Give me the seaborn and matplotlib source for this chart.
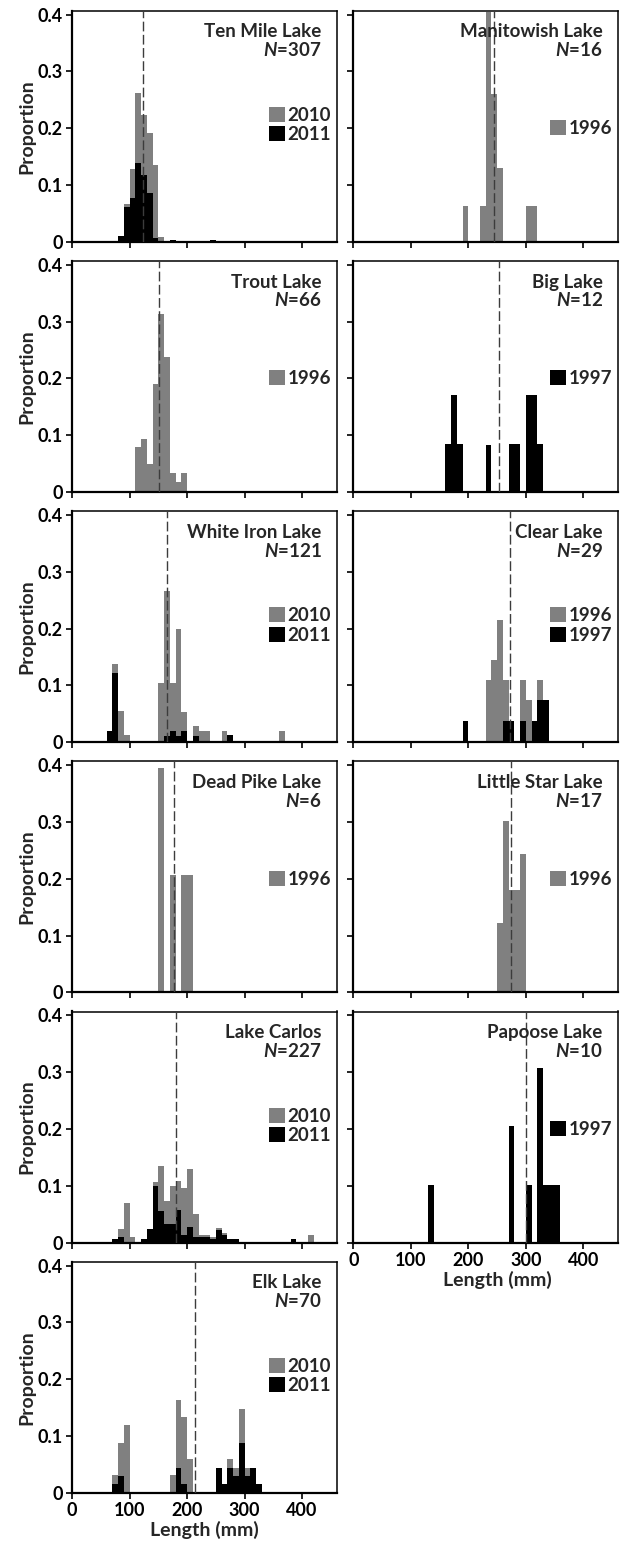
import numpy as np
import pandas as pd
import matplotlib
matplotlib.use("Agg")
import matplotlib.pyplot as plt
from matplotlib.patches import Patch
import seaborn as sns

# ---------------------------------------------------------------------------
# Length-frequency data: 10-mm bins (lower bin edge, mm) and proportion of the
# combined sample in each bin, split by sampling year.
# ---------------------------------------------------------------------------
TEN_MILE_BINS = [80, 90, 100, 110, 120, 130, 140, 150, 170, 240]
TEN_MILE_2010 = [0.000, 0.005, 0.051, 0.123, 0.105, 0.106, 0.129, 0.009, 0.000, 0.000]
TEN_MILE_2011 = [0.010, 0.061, 0.077, 0.139, 0.118, 0.086, 0.007, 0.000, 0.003, 0.003]

MANITOWISH_BINS = [190, 220, 230, 240, 250, 300, 310]
MANITOWISH_1996 = [0.0625, 0.0625, 0.405, 0.26, 0.13, 0.0625, 0.0625]

TROUT_BINS = [110, 120, 130, 140, 150, 160, 170, 180, 190]
TROUT_1996 = [0.079, 0.094, 0.049, 0.190, 0.314, 0.237, 0.033, 0.018, 0.033]

BIG_BINS = [160, 170, 180, 230, 270, 280, 300, 310, 320]
BIG_1997 = [0.084, 0.170, 0.084, 0.082, 0.084, 0.084, 0.170, 0.170, 0.084]

WHITE_IRON_BINS = [60, 70, 80, 90, 150, 160, 170, 180, 190, 210, 220, 230, 260, 270, 360]
WHITE_IRON_2010 = [0.000, 0.017, 0.055, 0.012, 0.105, 0.257, 0.086, 0.190, 0.034,
                   0.018, 0.020, 0.020, 0.020, 0.000, 0.020]
WHITE_IRON_2011 = [0.020, 0.121, 0.000, 0.000, 0.000, 0.010, 0.019, 0.010, 0.019,
                   0.010, 0.000, 0.000, 0.000, 0.012, 0.000]

CLEAR_BINS = [190, 230, 240, 250, 260, 270, 290, 300, 310, 320, 330]
CLEAR_1996 = [0.000, 0.109, 0.144, 0.215, 0.0725, 0.000, 0.0725, 0.0735, 0.000, 0.0355, 0.000]
CLEAR_1997 = [0.0365, 0.000, 0.000, 0.000, 0.0365, 0.0365, 0.0365, 0.000, 0.0365, 0.0735, 0.0735]

DEAD_PIKE_BINS = [150, 170, 190, 200]
DEAD_PIKE_1996 = [0.395, 0.206, 0.206, 0.206]

LITTLE_STAR_BINS = [250, 260, 270, 280, 290]
LITTLE_STAR_1996 = [0.122, 0.302, 0.181, 0.181, 0.243]

CARLOS_BINS = [70, 80, 90, 100, 120, 130, 140, 150, 160, 170, 180, 190, 200, 210,
               220, 230, 240, 250, 260, 270, 280, 380, 410]
CARLOS_2010 = [0.000, 0.013, 0.069, 0.0105, 0.000, 0.000, 0.006, 0.078, 0.0395, 0.067,
               0.051, 0.083, 0.1015, 0.041, 0.003, 0.003, 0.004, 0.004, 0.0045, 0.000,
               0.000, 0.000, 0.013]
CARLOS_2011 = [0.006, 0.010, 0.000, 0.000, 0.006, 0.023, 0.100, 0.056, 0.033, 0.033,
               0.058, 0.013, 0.0275, 0.010, 0.010, 0.010, 0.006, 0.022, 0.013, 0.006,
               0.006, 0.006, 0.000]

PAPOOSE_BINS = [130, 270, 300, 320, 330, 340, 350]
PAPOOSE_1997 = [0.101, 0.205, 0.101, 0.308, 0.101, 0.101, 0.101]

ELK_BINS = [70, 80, 90, 170, 180, 190, 200, 250, 260, 270, 280, 290, 300, 310, 320]
ELK_2010 = [0.016, 0.059, 0.119, 0.031, 0.119, 0.119, 0.059, 0.000, 0.000, 0.015,
            0.015, 0.059, 0.015, 0.000, 0.000]
ELK_2011 = [0.015, 0.029, 0.000, 0.000, 0.044, 0.015, 0.000, 0.044, 0.015, 0.044,
            0.029, 0.088, 0.029, 0.044, 0.015]

LAKE_NAMES = ["Ten Mile Lake", "Manitowish Lake", "Trout Lake", "Big Lake",
              "White Iron Lake", "Clear Lake", "Dead Pike Lake", "Little Star Lake",
              "Lake Carlos", "Papoose Lake", "Elk Lake"]
SAMPLE_SIZES = [307, 16, 66, 12, 121, 29, 6, 17, 227, 10, 70]
MEAN_LENGTHS = [123, 245, 152, 254, 166, 272.5, 177, 274.5, 181, 301, 214]

X_TICKS = [0, 100, 200, 300, 400]
Y_TICKS = [0, 0.1, 0.2, 0.3, 0.4]
Y_TICK_LABELS = ["0", "0.1", "0.2", "0.3", "0.4"]

PANELS = [
    (TEN_MILE_BINS, [("2010", TEN_MILE_2010), ("2011", TEN_MILE_2011)]),
    (MANITOWISH_BINS, [("1996", MANITOWISH_1996)]),
    (TROUT_BINS, [("1996", TROUT_1996)]),
    (BIG_BINS, [("1997", BIG_1997)]),
    (WHITE_IRON_BINS, [("2010", WHITE_IRON_2010), ("2011", WHITE_IRON_2011)]),
    (CLEAR_BINS, [("1996", CLEAR_1996), ("1997", CLEAR_1997)]),
    (DEAD_PIKE_BINS, [("1996", DEAD_PIKE_1996)]),
    (LITTLE_STAR_BINS, [("1996", LITTLE_STAR_1996)]),
    (CARLOS_BINS, [("2010", CARLOS_2010), ("2011", CARLOS_2011)]),
    (PAPOOSE_BINS, [("1997", PAPOOSE_1997)]),
    (ELK_BINS, [("2010", ELK_2010), ("2011", ELK_2011)]),
]

PALETTE = {"2010": "#808080", "2011": "#000000", "1996": "#808080", "1997": "#000000"}
EDGES = list(range(0, 470, 10))

# ---------------------------------------------------------------------------
# Styling
# ---------------------------------------------------------------------------
sns.set_theme(style="ticks")
plt.rcParams["font.family"] = ["Lato", "DejaVu Sans"]
plt.rcParams["font.weight"] = "bold"
plt.rcParams["axes.labelweight"] = "bold"
plt.rcParams["mathtext.fontset"] = "custom"
plt.rcParams["mathtext.it"] = "Lato:italic:bold"
plt.rcParams["mathtext.rm"] = "Lato:bold"
plt.rcParams["mathtext.bf"] = "Lato:bold"

W, H = 621, 1543
fig = plt.figure(figsize=(W / 100, H / 100), dpi=100)

COL_LEFT = [72.0, 353.3]
AX_W = 264.5
AX_H = 231.0
ROW_BOTTOM = [241.7 + 250.2 * i for i in range(6)]

FS_TICK = 13
FS_TITLE = 13.5
FS_LEG = 13.5
FS_LABEL = 14


def draw_panel(ax, idx, bins, series, show_xlabels, show_ylabels, xlabel_x=0.5):
    rows = []
    for year, vals in series:
        for b, v in zip(bins, vals):
            rows.append((b + 5, v, year))
    df = pd.DataFrame(rows, columns=["length", "prop", "year"])
    years = [y for y, _ in series]

    sns.histplot(data=df, x="length", weights="prop", hue="year", hue_order=years,
                 multiple="stack", bins=EDGES, palette=PALETTE, alpha=1,
                 linewidth=0, edgecolor="none", legend=False, ax=ax)

    ax.axvline(MEAN_LENGTHS[idx], color="#3c3c3c", lw=1.0, ls=(0, (7, 2.5)), zorder=5)

    ax.set_xlim(0, 460)
    ax.set_ylim(0, 0.407)
    ax.set_xticks(X_TICKS)
    ax.set_yticks(Y_TICKS)
    ax.tick_params(axis="both", direction="out", length=4.5, width=1.2,
                   labelsize=FS_TICK, pad=2, colors="black")
    if show_ylabels:
        ax.set_yticklabels(Y_TICK_LABELS)
        ax.set_ylabel("Proportion", fontsize=FS_LABEL, labelpad=1.5)
    else:
        ax.set_yticklabels([])
        ax.set_ylabel("")
    if show_xlabels:
        ax.set_xticklabels([str(t) for t in X_TICKS])
        ax.set_xlabel("Length (mm)", fontsize=FS_LABEL, labelpad=0)
        ax.xaxis.set_label_coords(xlabel_x, -0.122)
    else:
        ax.set_xticklabels([])
        ax.set_xlabel("")

    for side in ("left", "bottom"):
        ax.spines[side].set_linewidth(1.6)
    for side in ("top", "right"):
        ax.spines[side].set_linewidth(1.1)
    for sp in ax.spines.values():
        sp.set_color("black")

    ax.text(0.943, 0.945, f"{LAKE_NAMES[idx]}\n$N$={SAMPLE_SIZES[idx]}",
            transform=ax.transAxes, ha="right", va="top", multialignment="right",
            fontsize=FS_TITLE, fontweight="bold", linespacing=1.05, zorder=6)

    handles = [Patch(facecolor=PALETTE[y], edgecolor="none", label=y) for y in years]
    y_anchor = 0.505 if len(years) == 2 else 0.49
    ax.legend(handles=handles, loc="center right", bbox_to_anchor=(1.0, y_anchor),
              frameon=False, fontsize=FS_LEG, handlelength=0.85, handleheight=0.85,
              handletextpad=0.15, labelspacing=0.12, borderaxespad=0.2, borderpad=0.1)


for idx, (bins, series) in enumerate(PANELS):
    row, col = divmod(idx, 2)
    rect = [COL_LEFT[col] / W, 1 - ROW_BOTTOM[row] / H, AX_W / W, AX_H / H]
    ax = fig.add_axes(rect)
    show_x = (idx == 9) or (idx == 10)
    draw_panel(ax, idx, bins, series, show_xlabels=show_x, show_ylabels=(col == 0),
               xlabel_x=0.546 if idx == 9 else 0.5)

# Caption line running off the bottom edge
fig.text(100 / W, -12 / H,
         "Figure 2.  Length (mm) distributions of fish sampled in each lake",
         family=["Liberation Serif", "DejaVu Serif"], fontweight="normal", fontsize=12,
         ha="left", va="baseline")

fig.savefig("out.png", dpi=100)
